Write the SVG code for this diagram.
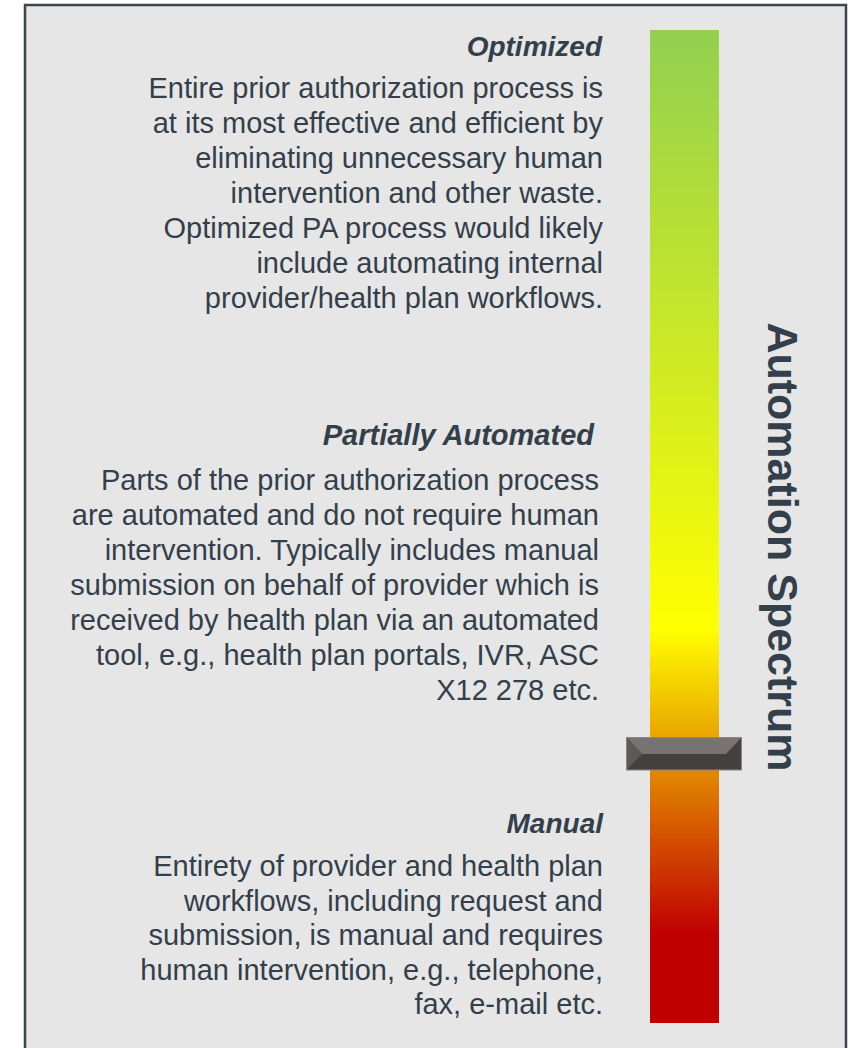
<svg xmlns="http://www.w3.org/2000/svg" width="854" height="1048" viewBox="0 0 854 1048">
  <style>
    .title { font-family: "Liberation Sans", Arial, sans-serif; font-size: 28px; font-weight: bold; font-style: italic; fill: #333f4a; text-anchor: end; }
    .body { font-family: "Liberation Sans", Arial, sans-serif; font-size: 29px; fill: #333f4a; text-anchor: end; }
    .axis { font-family: "Liberation Sans", Arial, sans-serif; font-size: 43px; font-weight: bold; fill: #333f4a; text-anchor: middle; }
  </style>
  <defs>
    <linearGradient id="spectrum" x1="0" y1="0" x2="0" y2="1">
      <stop offset="0" stop-color="#92d050"/>
      <stop offset="0.604" stop-color="#ffff00"/>
      <stop offset="0.91" stop-color="#c00000"/>
      <stop offset="1" stop-color="#c00000"/>
    </linearGradient>
  </defs>
  <rect x="0" y="0" width="854" height="1048" fill="#ffffff"/>
  <rect id="panel" x="25" y="5" width="821" height="1070" fill="#e6e6e6" stroke="#3b4650" stroke-width="2.5"/>

  <g id="bar">
    <rect x="650" y="30" width="69" height="993" fill="url(#spectrum)"/>
  </g>

  <g id="slider">
    <rect x="626.5" y="737.5" width="115" height="32.5" fill="#444040" stroke="#8a8685" stroke-width="1"/>
    <polygon points="627,738 741,738 726,754 642,754" fill="#787372"/>
    <polygon points="627,738 642,754 627,769.5" fill="#5d5958"/>
  </g>

  <g id="axis-label">
    <text class="axis" transform="translate(768,547) rotate(90)">Automation Spectrum</text>
  </g>

  <g id="optimized">
    <text class="title" x="602" y="56">Optimized</text>
    <text class="body" x="603" y="98">Entire prior authorization process is</text>
    <text class="body" x="603" y="133">at its most effective and efficient by</text>
    <text class="body" x="603" y="168">eliminating unnecessary human</text>
    <text class="body" x="603" y="203">intervention and other waste.</text>
    <text class="body" x="603" y="238">Optimized PA process would likely</text>
    <text class="body" x="603" y="273">include automating internal</text>
    <text class="body" x="603" y="308">provider/health plan workflows.</text>
  </g>

  <g id="partially-automated">
    <text class="title" x="594" y="445" style="font-size:29px">Partially Automated</text>
    <text class="body" x="599" y="490">Parts of the prior authorization process</text>
    <text class="body" x="599" y="525">are automated and do not require human</text>
    <text class="body" x="599" y="560">intervention. Typically includes manual</text>
    <text class="body" x="599" y="595">submission on behalf of provider which is</text>
    <text class="body" x="599" y="630">received by health plan via an automated</text>
    <text class="body" x="599" y="665">tool, e.g., health plan portals, IVR, ASC</text>
    <text class="body" x="599" y="700">X12 278 etc.</text>
  </g>

  <g id="manual">
    <text class="title" x="603" y="833">Manual</text>
    <text class="body" x="603" y="876">Entirety of provider and health plan</text>
    <text class="body" x="603" y="911">workflows, including request and</text>
    <text class="body" x="603" y="945">submission, is manual and requires</text>
    <text class="body" x="603" y="980">human intervention, e.g., telephone,</text>
    <text class="body" x="603" y="1014">fax, e-mail etc.</text>
  </g>

  <g id="connectors"></g>
</svg>
